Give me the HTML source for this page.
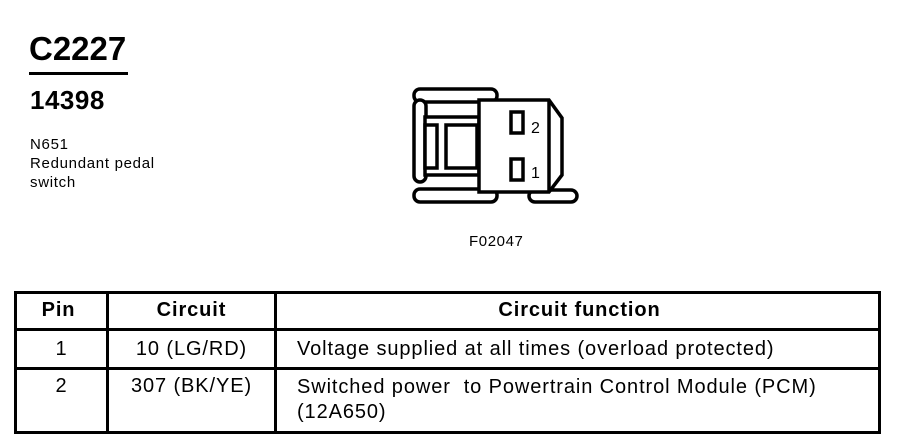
<!DOCTYPE html>
<html><head><style>
body{margin:0;width:900px;height:448px;background:#fff;position:relative;overflow:hidden;font-family:"Liberation Sans",Arial,sans-serif;color:#000}
.a{position:absolute;white-space:nowrap}
td{border:3px solid #000;padding:0;font-size:20px;letter-spacing:0.9px;vertical-align:top;white-space:nowrap}
</style></head><body>
<div class="a" style="left:29px;top:30px;font-size:33px;font-weight:bold;line-height:38px">C2227</div>
<div style="position:absolute;left:29px;top:72px;width:99px;height:3px;background:#000"></div>
<div class="a" style="left:30px;top:86px;font-size:26px;font-weight:bold;line-height:28px;letter-spacing:0.5px">14398</div>
<div class="a" style="left:30px;top:135px;font-size:15px;line-height:19px;letter-spacing:0.7px">N651<br>Redundant pedal<br>switch</div>
<div class="a" style="left:469px;top:233px;font-size:15px;letter-spacing:0.6px">F02047</div>
<svg style="position:absolute;left:0;top:0" width="900" height="260">
<g fill="#fff" stroke="#000" stroke-width="3.5">
<rect x="414" y="89" width="83" height="13" rx="6"/>
<rect x="414" y="189" width="83" height="13" rx="6"/>
<rect x="529" y="190" width="48" height="12" rx="6"/>
<rect x="414" y="100" width="12" height="82" rx="6"/>
<rect x="425" y="117" width="54" height="58"/>
<rect x="425" y="125" width="12" height="43"/>
<rect x="446" y="125" width="31" height="43"/>
<polygon points="479,100 549,100 562,118 562,175 549,192 479,192"/>
<line x1="549" y1="100" x2="549" y2="192"/>
<rect x="511" y="112" width="12" height="21"/>
<rect x="511" y="159" width="12" height="21"/>
</g>
<text x="531" y="133" font-size="16" font-family="Liberation Sans">2</text>
<text x="531" y="178" font-size="16" font-family="Liberation Sans">1</text>
</svg>
<table style="position:absolute;left:14px;top:291px;width:867px;height:143px;border-collapse:collapse;table-layout:fixed">
<colgroup><col style="width:92px"><col style="width:168px"><col></colgroup>
<tr style="height:37px"><td style="text-align:center;font-weight:bold;padding-top:5px;padding-right:6px">Pin</td><td style="text-align:center;font-weight:bold;padding-top:5px">Circuit</td><td style="text-align:center;font-weight:bold;padding-top:5px;padding-left:4px">Circuit function</td></tr>
<tr style="height:39px"><td style="text-align:center;padding-top:7px">1</td><td style="text-align:center;padding-top:7px">10 (LG/RD)</td><td style="padding-left:20px;padding-top:7px">Voltage supplied at all times (overload protected)</td></tr>
<tr><td style="text-align:center;padding-top:5px">2</td><td style="text-align:center;padding-top:5px">307 (BK/YE)</td><td style="padding-left:20px;padding-top:5px;line-height:25px">Switched power &nbsp;to Powertrain Control Module (PCM)<br>(12A650)</td></tr>
</table>
</body></html>
